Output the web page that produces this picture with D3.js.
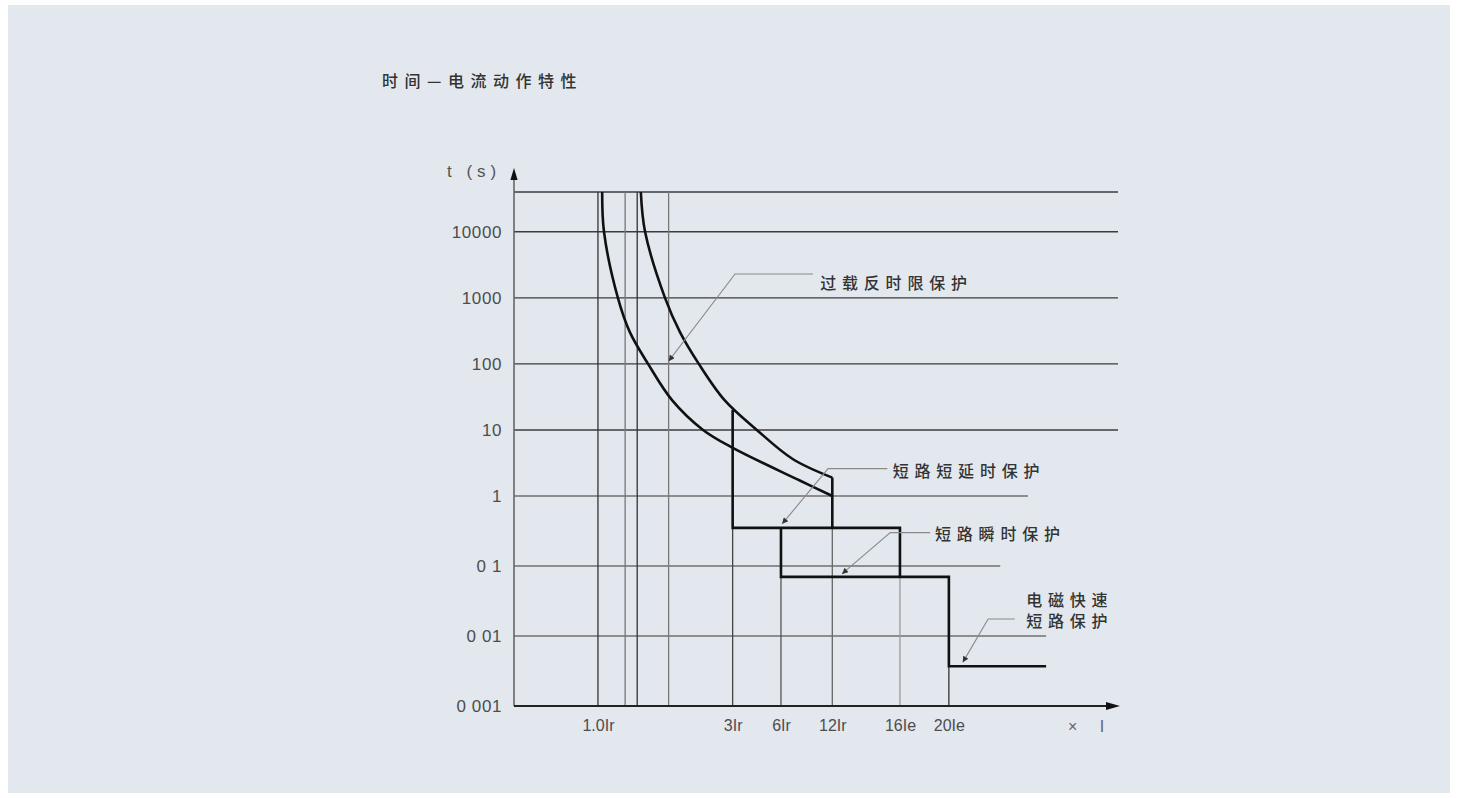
<!DOCTYPE html>
<html>
<head>
<meta charset="utf-8">
<script src="https://cdn.jsdelivr.net/npm/d3@7"></script>
<style>
  html, body { margin: 0; padding: 0; background: #ffffff; }
  svg { display: block; }
</style>
</head>
<body>
<svg id="chart" width="1459" height="798"></svg>
<script>
// Time–current tripping characteristic of a circuit breaker:
// log time axis (seconds), schematic current axis (multiples of Ir / Ie).

// ---- data ---------------------------------------------------------------
const yTickValues = [0.001, 0.01, 0.1, 1, 10, 100, 1000, 10000];
const yTickLabels = ["0 001", "0 01", "0 1", "1", "10", "100", "1000", "10000"];
const tTop = 40000;                 // upper limit of the time axis

// horizontal reference lines: time value and where each line stops on the current axis
const hLineValues = [0.01, 0.1, 1, 10, 100, 1000, 10000, tTop];
const hLineEnds   = [88.1, 80.5, 85.1, 100, 100, 100, 100, 100];

// vertical reference lines along the current axis (schematic units 0–100)
const xLinePos    = [13.9, 18.4, 20.4, 25.6, 36.2, 44.2, 52.7, 63.9, 72.0];
const xLineTops   = [tTop, tTop, tTop, tTop, 20, 0.35, 1.9, 0.35, 0.07];
const xTickPos    = [13.9, 36.2, 44.2, 52.7, 63.9, 72.0];
const xTickLabels = ["1.0Ir", "3Ir", "6Ir", "12Ir", "16Ie", "20Ie"];

// overload inverse-time band (lower and upper boundary), [current, time]
const overloadLower = [[14.6, 40000], [14.9, 10000], [17.2, 1000], [19.2, 300], [22.2, 100],
                       [26.2, 28], [31.3, 10], [36.3, 5.3], [47.4, 1.7], [52.7, 1]];
const overloadUpper = [[21.0, 40000], [21.7, 10000], [25.0, 1000], [27.5, 300], [30.6, 100],
                       [34.9, 28], [40.2, 10], [46.2, 3.6], [52.7, 1.9]];

// short-time delay, instantaneous and fast electromagnetic steps
const shortDelayStep = [[36.2, 20], [36.2, 0.35], [63.9, 0.35], [63.9, 0.07]];
const overloadDrop   = [[52.7, 1.9], [52.7, 0.35]];
const instantStep    = [[44.2, 0.35], [44.2, 0.07], [72.0, 0.07], [72.0, 0.0037], [88.1, 0.0037]];

// callouts: label lines, arrow tip, elbow, end of the horizontal leader, label start
const annoLabels = [["过载反时限保护"], ["短路短延时保护"], ["短路瞬时保护"], ["电磁快速", "短路保护"]];
const annoTip    = [[25.6, 110], [44.4, 0.4], [54.3, 0.077], [74.3, 0.0042]];
const annoElbow  = [[36.6, 2300], [52.0, 2.6], [62.3, 0.3], [78.5, 0.0175]];
const annoEnd    = [49.5, 61.8, 68.9, 82.9];
const annoTextX  = [50.7, 62.7, 69.7, 84.8];

// ---- layout ---------------------------------------------------------------
const svg = d3.select("#chart");
const LATIN = "'Liberation Sans', Arial, sans-serif";
const CJK = "'Noto Sans CJK SC', 'Noto Sans', sans-serif";

const x = d3.scaleLinear().domain([0, 100]).range([514, 1118]);
// lower decades are drawn a little taller than the upper ones
const y = d3.scaleLog().domain([0.001, 1, tTop]).range([706, 496, 192]);

// panel background
svg.append("rect").attr("x", 8).attr("y", 5).attr("width", 1442).attr("height", 788)
  .attr("fill", "#e2e8ee");

// title
svg.append("text")
  .attr("x", 382).attr("y", 80)
  .attr("dominant-baseline", "central")
  .attr("font-family", CJK).attr("font-size", 16).attr("font-weight", 500)
  .attr("letter-spacing", 6.5)
  .attr("fill", "#333").text("时间—电流动作特性");

const defs = svg.append("defs");
defs.append("marker").attr("id", "tipArrow")
  .attr("viewBox", "0 0 10 10").attr("refX", 10).attr("refY", 5)
  .attr("markerWidth", 8).attr("markerHeight", 6).attr("markerUnits", "userSpaceOnUse")
  .attr("orient", "auto")
  .append("path").attr("d", "M0,0 L10,5 L0,10 Z").attr("fill", "#333");

const grid = svg.append("g");

// horizontal reference lines
const hStyle = v => v >= 10 ? { c: "#3c3c3c", w: 1.4 } : { c: "#8e8e8e", w: 2 };
grid.selectAll("line.h").data(hLineValues).join("line")
  .attr("class", "h")
  .attr("x1", x(0)).attr("x2", (d, i) => x(hLineEnds[i]))
  .attr("y1", d => y(d)).attr("y2", d => y(d))
  .attr("stroke", d => hStyle(d).c).attr("stroke-width", d => hStyle(d).w);

// vertical reference lines
const vShade = ["#333", "#777", "#333", "#7a7a7a", "#444", "#555", "#666", "#9a9a9a", "#333"];
grid.selectAll("line.v").data(xLinePos).join("line")
  .attr("class", "v")
  .attr("x1", d => x(d)).attr("x2", d => x(d))
  .attr("y1", (d, i) => y(xLineTops[i])).attr("y2", y(0.001))
  .attr("stroke", (d, i) => vShade[i]).attr("stroke-width", 1.3);

// characteristic curves
const line = d3.line().x(d => x(d[0])).y(d => y(d[1]));
const smooth = d3.line().x(d => x(d[0])).y(d => y(d[1])).curve(d3.curveCatmullRom.alpha(0.5));
const curves = svg.append("g").attr("fill", "none").attr("stroke", "#111")
  .attr("stroke-width", 2.6).attr("stroke-linejoin", "miter");
curves.append("path").attr("d", smooth(overloadLower));
curves.append("path").attr("d", smooth(overloadUpper));
curves.append("path").attr("d", line(shortDelayStep));
curves.append("path").attr("d", line(overloadDrop));
curves.append("path").attr("d", line(instantStep));

// axes
const axisG = svg.append("g");
axisG.append("line").attr("x1", x(0)).attr("x2", x(0))
  .attr("y1", y(0.001)).attr("y2", 176)
  .attr("stroke", "#666").attr("stroke-width", 1.6);
axisG.append("path")
  .attr("d", `M${x(0)},168 L${x(0) + 3.6},180 L${x(0) - 3.6},180 Z`).attr("fill", "#111");
axisG.append("line").attr("x1", x(0)).attr("x2", x(100) - 10)
  .attr("y1", y(0.001)).attr("y2", y(0.001))
  .attr("stroke", "#222").attr("stroke-width", 2);
axisG.append("path")
  .attr("d", `M${x(100) + 2},${y(0.001)} L${x(100) - 12},${y(0.001) - 4} L${x(100) - 12},${y(0.001) + 4} Z`)
  .attr("fill", "#111");

const yAxis = d3.axisLeft(y).tickValues(yTickValues)
  .tickFormat((d, i) => yTickLabels[i]).tickSize(0).tickPadding(12);
const yAxisG = svg.append("g").attr("transform", `translate(${x(0)},0)`).call(yAxis);
yAxisG.select(".domain").remove();
yAxisG.selectAll("text")
  .attr("font-family", LATIN).attr("font-size", 17).attr("letter-spacing", 0.6)
  .attr("fill", "#4d4d4d");

const xAxis = d3.axisBottom(x).tickValues(xTickPos)
  .tickFormat((d, i) => xTickLabels[i]).tickSize(0).tickPadding(14);
const xAxisG = svg.append("g").attr("transform", `translate(0,${y(0.001)})`).call(xAxis);
xAxisG.select(".domain").remove();
xAxisG.selectAll("text")
  .attr("font-family", LATIN).attr("font-size", 16).attr("fill", "#4d4d4d");

// axis titles
svg.append("text").attr("x", 447).attr("y", 171).attr("dominant-baseline", "central")
  .attr("font-family", LATIN).attr("font-size", 17).attr("letter-spacing", 5)
  .attr("fill", "#555").text("t (s)");
svg.append("text").attr("x", 1068).attr("y", 726).attr("dominant-baseline", "central")
  .attr("font-family", LATIN).attr("font-size", 16).attr("letter-spacing", 9)
  .attr("fill", "#666").text("× I");

// callouts
const annoDy = [[8], [1], [0], [-20, 1.5]];
const anno = svg.append("g");
annoLabels.forEach((lines, i) => {
  const tip = annoTip[i], elbow = annoElbow[i];
  anno.append("path")
    .attr("d", `M${x(annoEnd[i])},${y(elbow[1])} L${x(elbow[0])},${y(elbow[1])} L${x(tip[0])},${y(tip[1])}`)
    .attr("fill", "none").attr("stroke", "#8a8a8a").attr("stroke-width", 1.1)
    .attr("marker-end", "url(#tipArrow)");
  lines.forEach((s, k) => {
    anno.append("text")
      .attr("x", x(annoTextX[i])).attr("y", y(elbow[1]) + annoDy[i][k])
      .attr("dominant-baseline", "central")
      .attr("font-family", CJK).attr("font-size", 16).attr("font-weight", 500)
      .attr("letter-spacing", 5.8)
      .attr("fill", "#333").text(s);
  });
});
</script>
</body>
</html>
